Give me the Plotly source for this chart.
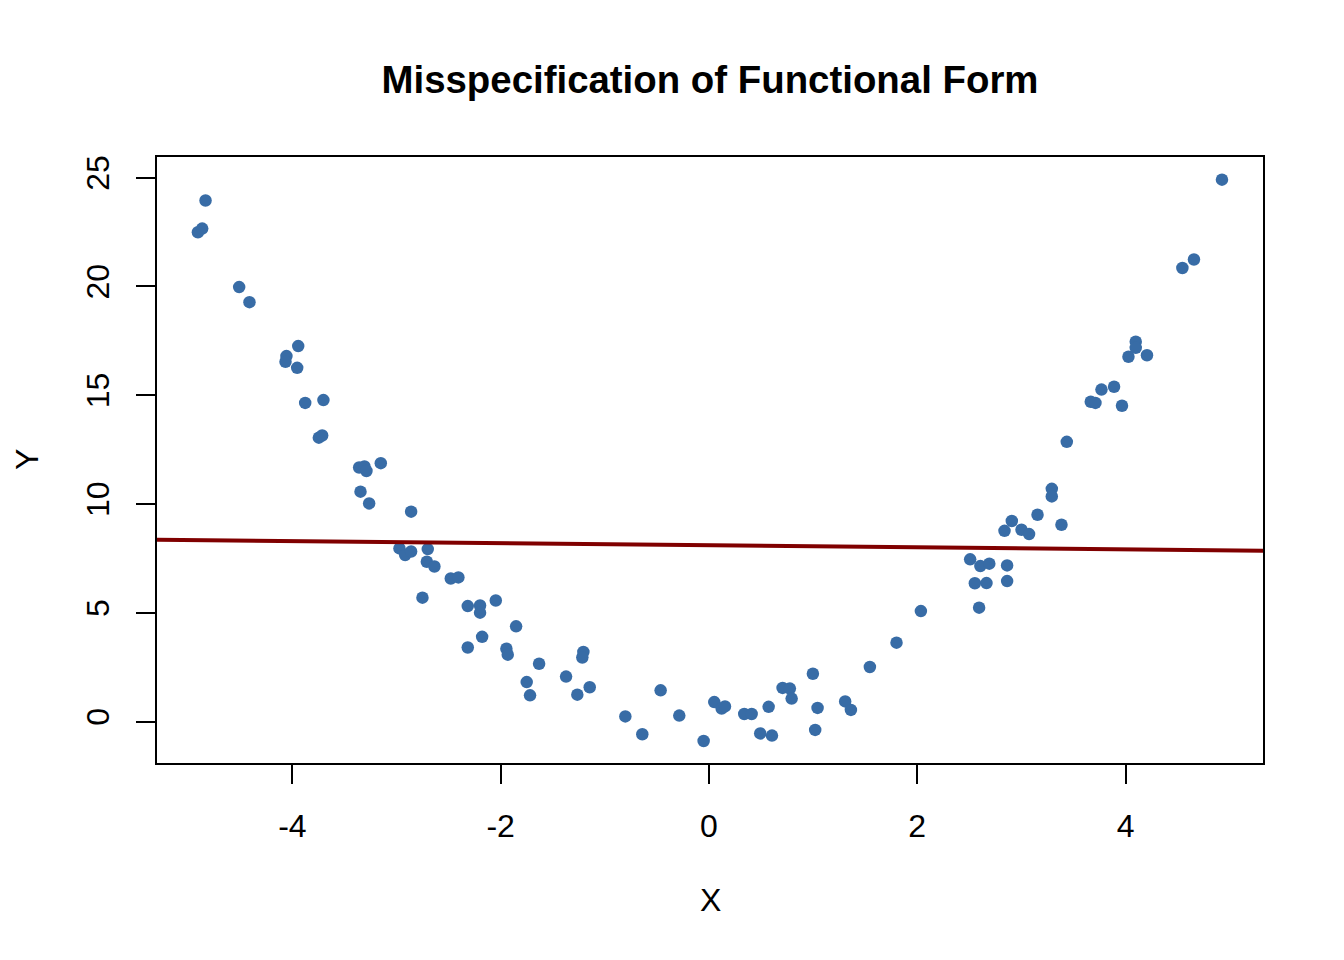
import plotly.graph_objects as go

x_vals = [-4.907, -4.866, -4.834, -4.511, -4.412, -4.057, -4.066, -3.944, -3.954, -3.877,
          -3.702, -3.746, -3.714, -3.359, -3.308, -3.289, -3.151, -3.346, -3.263, -2.860,
          -2.972, -2.917, -2.860, -2.700, -2.709, -2.636, -2.751, -2.479, -2.406, -2.316,
          -2.198, -2.198, -2.047, -1.852, -2.316, -2.178, -1.945, -1.932, -1.631, -1.750,
          -1.718, -1.372, -1.264, -1.145, -1.206, -1.216, -0.803, -0.640, -0.464, -0.285,
          -0.051, 0.051, 0.122, 0.154, 0.339, 0.410, 0.573, 0.492, 0.605, 0.707,
          0.777, 0.794, 0.998, 1.043, 1.020, 1.308, 1.363, 1.545, 1.801, 2.035,
          2.508, 2.606, 2.692, 2.553, 2.665, 2.594, 2.863, 2.863, 2.838, 2.908,
          3.001, 3.074, 3.155, 3.292, 3.292, 3.385, 3.436, 3.666, 3.711, 3.769,
          3.890, 3.966, 4.028, 4.098, 4.098, 4.206, 4.546, 4.657, 4.926]
y_vals = [22.49, 22.66, 23.95, 19.97, 19.28, 16.80, 16.54, 17.26, 16.26, 14.65,
          14.78, 13.05, 13.15, 11.68, 11.73, 11.52, 11.88, 10.57, 10.03, 9.65,
          7.96, 7.66, 7.82, 7.93, 7.35, 7.13, 5.70, 6.58, 6.63, 5.31,
          5.34, 5.01, 5.57, 4.38, 3.41, 3.90, 3.35, 3.08, 2.66, 1.82,
          1.21, 2.07, 1.24, 1.58, 3.20, 2.95, 0.24, -0.58, 1.44, 0.28,
          -0.89, 0.90, 0.60, 0.70, 0.35, 0.35, 0.68, -0.54, -0.64, 1.55,
          1.52, 1.06, 2.20, 0.63, -0.38, 0.93, 0.54, 2.51, 3.63, 5.08,
          7.46, 7.15, 7.26, 6.36, 6.37, 5.24, 7.18, 6.46, 8.77, 9.22,
          8.82, 8.62, 9.51, 10.70, 10.35, 9.05, 12.86, 14.70, 14.65, 15.26,
          15.39, 14.52, 16.77, 17.46, 17.18, 16.84, 20.85, 21.24, 24.91]

# Linear fit line (misspecified model) coefficients
fit_intercept = 8.11
fit_slope = -0.048

x_ticks = [-4, -2, 0, 2, 4]
y_ticks = [0, 5, 10, 15, 20, 25]
x_range = [-5.30, 5.32]
y_range = [-1.90, 25.95]

line_x = [x_range[0] - 1, x_range[1] + 1]
line_y = [fit_intercept + fit_slope * v for v in line_x]

FONT = "Liberation Sans, Arial, Helvetica, sans-serif"

fig = go.Figure()
fig.add_trace(go.Scatter(
    x=x_vals, y=y_vals, mode="markers",
    marker=dict(color="#386ca6", size=12.5, line=dict(width=0)),
    showlegend=False, hoverinfo="x+y",
))
fig.add_trace(go.Scatter(
    x=line_x, y=line_y, mode="lines",
    line=dict(color="#800000", width=4),
    showlegend=False, hoverinfo="skip",
))

fig.update_layout(
    width=1344, height=960,
    margin=dict(l=149, r=89, t=149, b=205),
    paper_bgcolor="white", plot_bgcolor="white",
    font=dict(family=FONT, size=32, color="black"),
    title=dict(
        text="<b>Misspecification of Functional Form</b>",
        font=dict(family=FONT, size=38.4, color="black"),
        x=0.5, xref="paper", xanchor="center",
        y=1 - 72 / 960, yref="container", yanchor="middle",
    ),
    xaxis=dict(
        range=x_range, tickvals=x_ticks, ticktext=[str(v) for v in x_ticks],
        showgrid=False, zeroline=False,
        showline=True, linecolor="black", linewidth=2, mirror=True,
        ticks="outside", ticklen=19, tickwidth=2, tickcolor="black",
        ticklabelstandoff=15,
        tickfont=dict(family=FONT, size=32, color="black"),
    ),
    yaxis=dict(
        range=y_range, tickvals=y_ticks, ticktext=[str(v) for v in y_ticks],
        showgrid=False, zeroline=False,
        showline=True, linecolor="black", linewidth=2, mirror=True,
        ticks="outside", ticklen=19, tickwidth=2, tickcolor="black",
        tickangle=-90, ticklabelstandoff=14,
        tickfont=dict(family=FONT, size=32, color="black"),
    ),
    annotations=[
        dict(text="X", x=0.5, xref="paper", y=(763 - 900) / 606, yref="paper",
             xanchor="center", yanchor="middle", showarrow=False,
             font=dict(family=FONT, size=32, color="black")),
        dict(text="Y", x=(27 - 157) / 1106, xref="paper", y=0.5, yref="paper",
             xanchor="center", yanchor="middle", showarrow=False, textangle=-90,
             font=dict(family=FONT, size=32, color="black")),
    ],
)

fig.write_html("out.html")
